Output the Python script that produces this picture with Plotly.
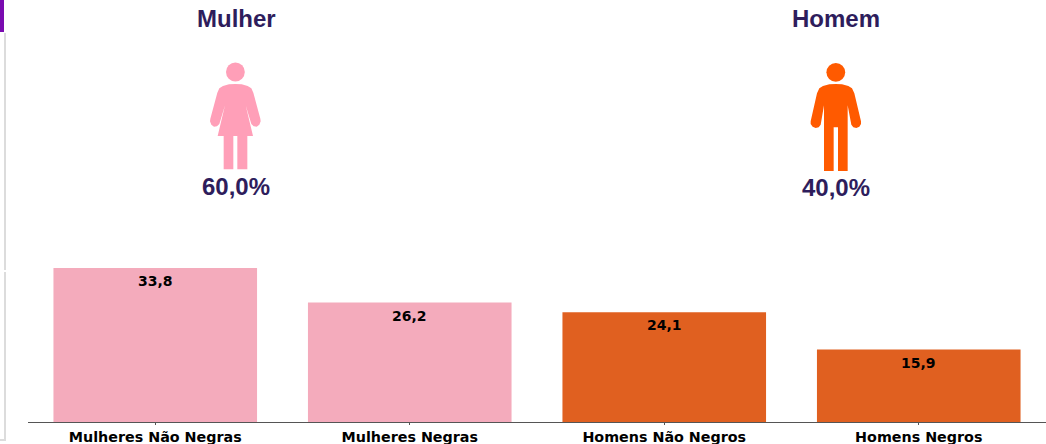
import plotly.graph_objects as go

# ---- data ----
categories = ["Mulheres Não Negras", "Mulheres Negras", "Homens Não Negros", "Homens Negros"]
values = [33.8, 26.2, 24.1, 15.9]
value_labels = ["33,8", "26,2", "24,1", "15,9"]
bar_colors = ["#f4abbc", "#f4abbc", "#e06020", "#e06020"]
group_titles = ["Mulher", "Homem"]
group_shares = ["60,0%", "40,0%"]

W, H = 1046, 444
ML, MB = 28, 22
NAVY = "#2e1d5c"
PINK = "#ff9fb8"
ORANGE = "#ff5a00"


def fx(x):
    return (x - ML) / (W - ML)


def fy(y):
    return 1 - y / (H - MB)


def poly(pts):
    return "M" + " L".join(f"{fx(x):.5f},{fy(y):.5f}" for x, y in pts) + " Z"


def path_shape(d, color):
    return dict(type="path", xref="paper", yref="paper", path=d,
                fillcolor=color, line=dict(width=0), layer="above")


def rect(x0, y0, x1, y1, color):
    return dict(type="rect", xref="paper", yref="paper", x0=fx(x0), x1=fx(x1),
                y0=fy(y0), y1=fy(y1), fillcolor=color, line=dict(width=0), layer="below")


def circle(cx, cy, r, color):
    return dict(type="circle", xref="paper", yref="paper", x0=fx(cx - r), x1=fx(cx + r),
                y0=fy(cy + r), y1=fy(cy - r), fillcolor=color, line=dict(width=0))


def icon_pts(ox, pts):
    return [(ox + a / 3, b / 3) for a, b in pts]


woman = [(166, 252), (185, 253), (203, 258), (214, 265), (220, 278), (241, 356), (242, 364), (238, 374), (230, 380),
         (221, 379), (214, 372), (211, 362), (197, 316), (219, 408), (202, 408), (202, 508), (172, 508), (172, 408),
         (160, 408), (160, 508), (131, 508), (131, 408), (113, 408), (135, 316), (121, 362), (118, 372), (111, 379),
         (102, 380), (94, 374), (90, 364), (91, 356), (112, 278), (118, 265), (129, 258), (147, 253)]
man = [(167, 252), (186, 253), (205, 258), (216, 265), (223, 280), (243, 364), (243, 372), (238, 380), (229, 384),
       (220, 382), (214, 374), (203, 316), (203, 513), (174, 513), (174, 382), (161, 382), (161, 513), (132, 513),
       (132, 316), (122, 374), (116, 382), (107, 384), (98, 380), (92, 372), (92, 364), (111, 280), (118, 265),
       (129, 258), (148, 253)]

shapes = [
    rect(0, 33, 6, 270, "#dcdcdc"), rect(0, 272, 6, 441, "#dcdcdc"),
    rect(0, 33, 4, 270, "#ffffff"), rect(0, 272, 4, 439, "#ffffff"),
    rect(0, 0, 4, 32, "#7a0bb0"),
    circle(235.4, 72, 9.4, PINK), path_shape(poly(icon_pts(180, woman)), PINK),
    circle(835.8, 72.3, 9.4, ORANGE), path_shape(poly(icon_pts(780, man)), ORANGE),
]


def note(x, y, text, size):
    return dict(xref="paper", yref="paper", x=fx(x), y=fy(y), text=f"<b>{text}</b>", showarrow=False,
                xanchor="center", yanchor="middle",
                font=dict(family="Liberation Sans", size=size, color=NAVY))


annotations = [
    note(236, 19, group_titles[0], 24), note(836, 19, group_titles[1], 24),
    note(235.5, 186, group_shares[0], 24), note(836, 188, group_shares[1], 24),
]
for c, v, t in zip(categories, values, value_labels):
    annotations.append(dict(xref="x", yref="y", x=c, y=v, text=f"<b>{t}</b>", showarrow=False,
                            xanchor="center", yanchor="top", yshift=-3,
                            font=dict(family="DejaVu Sans", size=14, color="#000000")))

fig = go.Figure(go.Bar(
    x=categories, y=values, width=0.8,
    marker=dict(color=bar_colors, line=dict(width=0)),
    hoverinfo="x+y",
))
fig.update_layout(
    width=W, height=H, margin=dict(l=ML, r=0, t=0, b=MB),
    paper_bgcolor="#ffffff", plot_bgcolor="#ffffff", showlegend=False,
    shapes=shapes, annotations=annotations,
    xaxis=dict(type="category", range=[-0.5, 3.5], showline=True, linecolor="#555555", linewidth=1,
               ticks="outside", ticklen=2, tickcolor="#555555", showgrid=False,
               tickfont=dict(family="DejaVu Sans", size=14.3, color="#000000", weight="bold")),
    yaxis=dict(range=[0, 92.6], visible=False, showgrid=False),
)
fig.write_html("out.html", config=dict(displayModeBar=False),
               post_script="document.body.style.margin='0';document.body.style.overflow='hidden';")
